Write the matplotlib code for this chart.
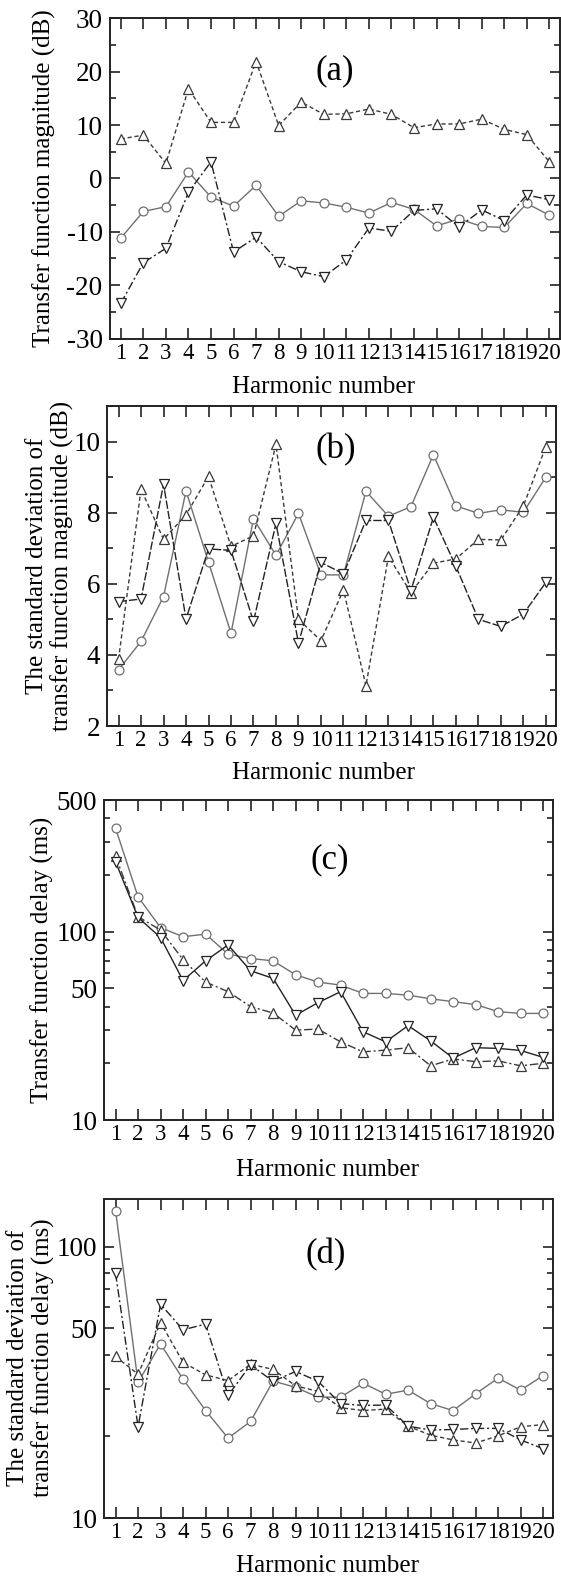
import matplotlib
matplotlib.use('Agg')
import matplotlib.pyplot as plt
from matplotlib.ticker import FixedLocator, NullFormatter, MultipleLocator, FixedFormatter

plt.rcParams['font.family'] = ['Liberation Serif', 'DejaVu Serif']
plt.rcParams['axes.unicode_minus'] = False

harmonics = list(range(1, 21))
x_tick_labels = [str(h) for h in harmonics]

# (a) transfer function magnitude (dB)
mag_circle = [-11.2, -6.2, -5.3, 1.2, -3.5, -5.2, -1.3, -7.1, -4.2, -4.6,
              -5.4, -6.5, -4.5, -5.8, -8.9, -7.6, -9.0, -9.2, -4.7, -6.9]
mag_up = [7.4, 8.1, 2.8, 16.8, 10.5, 10.5, 21.9, 9.9, 14.3, 12.0,
          12.1, 13.0, 12.0, 9.5, 10.2, 10.2, 11.1, 9.2, 8.2, 3.1]
mag_down = [-23.4, -15.8, -13.1, -2.6, 3.1, -13.8, -11.0, -15.6, -17.5, -18.4,
            -15.3, -9.3, -9.9, -6.0, -5.7, -9.1, -5.9, -7.9, -3.1, -4.0]

# (b) std of magnitude (dB)
magsd_circle = [3.58, 4.38, 5.64, 8.61, 6.61, 4.61, 7.83, 6.8, 7.98, 6.25,
                6.25, 8.6, 7.9, 8.17, 9.63, 8.19, 7.98, 8.08, 8.01, 9.0]
magsd_up = [3.88, 8.66, 7.25, 7.94, 9.02, 7.05, 7.35, 9.92, 5.0, 4.4,
            5.83, 3.13, 6.77, 5.75, 6.58, 6.7, 7.25, 7.23, 8.19, 9.86]
magsd_down = [5.5, 5.57, 8.8, 5.01, 6.98, 6.94, 4.94, 7.7, 4.33, 6.6,
              6.28, 7.78, 7.78, 5.81, 7.87, 6.49, 5.0, 4.8, 5.15, 6.04]

# (c) transfer function delay (ms)
delay_circle = [354, 153, 105, 94, 97, 76, 72, 70, 59, 54,
                52, 47, 47, 46, 44, 42.5, 41, 37.6, 36.8, 36.8]
delay_up = [252, 120, 102, 71, 54, 48, 40, 37, 30, 30.4,
            26, 23, 23.5, 24.2, 19.4, 21.1, 20.4, 20.6, 19.4, 20.0]
delay_down = [235, 119, 93, 55, 70, 85, 62, 56.5, 36, 42,
              48, 29.4, 26, 31.7, 26.3, 21.3, 24.2, 24, 23.4, 21.5]

# (d) std of delay (ms)
delaysd_circle = [136, 31.6, 43.8, 32.5, 24.9, 19.7, 22.7, 32, 30.3, 27.9,
                  27.9, 31.4, 28.6, 29.6, 26.4, 24.9, 28.7, 32.8, 29.6, 33.5]
delaysd_up = [39.4, 33.9, 52.5, 37.5, 33.7, 32.1, 36.9, 35.3, 30.7, 29.3,
              25.5, 24.9, 25.2, 21.8, 20.2, 19.4, 18.9, 20.1, 21.7, 22.1]
delaysd_down = [79.8, 21.7, 61.4, 49.4, 51.9, 28.3, 36.7, 31.9, 34.7, 31.9,
                26.4, 26.0, 26.1, 21.8, 21.1, 21.2, 21.4, 21.4, 19.4, 18.0]

W, H = 561, 1582
fig = plt.figure(figsize=(W / 100, H / 100), dpi=100)


def add_ax(left, right, top, bottom):
    return fig.add_axes([left / W, 1 - bottom / H, (right - left) / W, (bottom - top) / H])


XTICK_FS = 16.5
YTICK_FS = 19.5
LABEL_FS = 18
PANEL_FS = 25

c_circ = '#707070'
c_up = '#3a3a3a'
c_down = '#222222'


def draw(ax, yc, yu, yd, ls_up, ls_down):
    ax.plot(harmonics, yc, color=c_circ, lw=1.0, ls='-', marker='o', ms=6.4,
            mfc='white', mec=c_circ, mew=0.9, zorder=3)
    ax.plot(harmonics, yu, color=c_up, lw=1.0, ls=ls_up, marker='^', ms=7.8,
            mfc='white', mec=c_up, mew=0.9, zorder=4)
    ax.plot(harmonics, yd, color=c_down, lw=1.0, ls=ls_down, marker='v', ms=7.8,
            mfc='white', mec=c_down, mew=0.9, zorder=5)


def style(ax):
    ax.set_xlim(0.5, 20.45)
    ax.xaxis.set_major_locator(FixedLocator(harmonics))
    ax.xaxis.set_major_formatter(FixedFormatter(x_tick_labels))
    ax.tick_params(axis='both', which='both', direction='in', top=True, right=True,
                   width=1.2, color='#222222')
    ax.tick_params(axis='x', which='major', length=8, pad=3, labelsize=XTICK_FS)
    ax.tick_params(axis='y', which='major', length=7, pad=5, labelsize=YTICK_FS)
    ax.tick_params(axis='y', which='minor', length=4)
    for s in ax.spines.values():
        s.set_linewidth(1.4)
        s.set_color('#222222')


dash_short = (0, (3, 2))
dash_dot = (0, (6, 2, 1.5, 2))
dash_long = (0, (6, 1.5))

# (a)
ax = add_ax(109.5, 559.5, 18.3, 338.5)
draw(ax, mag_circle, mag_up, mag_down, dash_short, dash_dot)
style(ax)
ax.set_ylim(-30, 30)
ax.yaxis.set_major_locator(MultipleLocator(10))
ax.yaxis.set_minor_locator(MultipleLocator(5))
ax.text(0.5, 0.836, '(a)', transform=ax.transAxes, ha='center', va='center', fontsize=PANEL_FS)
fig.text(44.7 / W, 1 - 178 / H, 'Transfer function magnitude (dB)', rotation=90,
         ha='center', va='center', fontsize=LABEL_FS)
fig.text(324 / W, 1 - 387 / H, 'Harmonic number', ha='center', va='center', fontsize=LABEL_FS)

# (b)
ax = add_ax(107.3, 556, 406, 726)
draw(ax, magsd_circle, magsd_up, magsd_down, dash_short, dash_long)
style(ax)
ax.set_ylim(2, 11)
ax.yaxis.set_major_locator(MultipleLocator(2))
ax.yaxis.set_minor_locator(MultipleLocator(1))
ax.text(0.51, 0.8625, '(b)', transform=ax.transAxes, ha='center', va='center', fontsize=PANEL_FS)
fig.text(50 / W, 1 - 566 / H, 'The standard deviation of\ntransfer function magnitude (dB)',
         rotation=90, ha='center', va='center', fontsize=LABEL_FS, linespacing=1.1,
         multialignment='center')
fig.text(324 / W, 1 - 773 / H, 'Harmonic number', ha='center', va='center', fontsize=LABEL_FS)

# (c)
ax = add_ax(104.3, 553.3, 800, 1120)
draw(ax, delay_circle, delay_up, delay_down, dash_dot, '-')
style(ax)
ax.set_yscale('log')
ax.set_ylim(10, 500)
ax.yaxis.set_major_locator(FixedLocator([10, 50, 100, 500]))
ax.yaxis.set_major_formatter(FixedFormatter(['10', '50', '100', '500']))
ax.yaxis.set_minor_locator(FixedLocator([20, 30, 40, 60, 70, 80, 90, 200, 300, 400]))
ax.yaxis.set_minor_formatter(NullFormatter())
ax.text(0.503, 0.8125, '(c)', transform=ax.transAxes, ha='center', va='center', fontsize=PANEL_FS)
fig.text(42 / W, 1 - 960 / H, 'Transfer function delay (ms)', rotation=90,
         ha='center', va='center', fontsize=LABEL_FS)
fig.text(328 / W, 1 - 1170 / H, 'Harmonic number', ha='center', va='center', fontsize=LABEL_FS)

# (d)
ax = add_ax(104.3, 553.3, 1199, 1518)
draw(ax, delaysd_circle, delaysd_up, delaysd_down, dash_short, dash_dot)
style(ax)
ax.set_yscale('log')
ax.set_ylim(10, 150)
ax.yaxis.set_major_locator(FixedLocator([10, 50, 100]))
ax.yaxis.set_major_formatter(FixedFormatter(['10', '50', '100']))
ax.yaxis.set_minor_locator(FixedLocator([20, 30, 40, 60, 70, 80, 90]))
ax.yaxis.set_minor_formatter(NullFormatter())
ax.text(0.493, 0.824, '(d)', transform=ax.transAxes, ha='center', va='center', fontsize=PANEL_FS)
fig.text(31 / W, 1 - 1358 / H, 'The standard deviation of\ntransfer function delay (ms)',
         rotation=90, ha='center', va='center', fontsize=LABEL_FS, linespacing=1.1,
         multialignment='center')
fig.text(328 / W, 1 - 1566 / H, 'Harmonic number', ha='center', va='center', fontsize=LABEL_FS)

fig.savefig('out.png', dpi=100)
